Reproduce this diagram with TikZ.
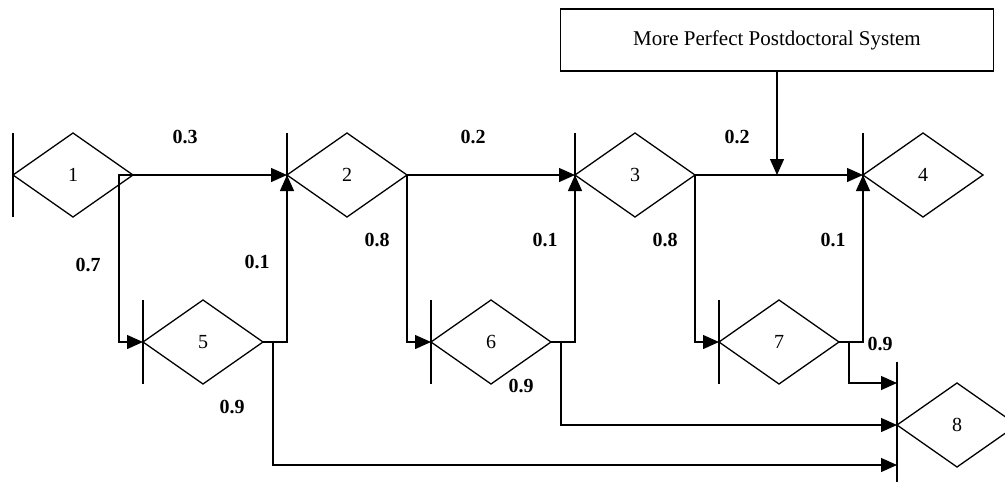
\documentclass[tikz,border=0pt]{standalone}
\usepackage{fontspec}
\setmainfont{Liberation Serif}
\usetikzlibrary{shapes.geometric, arrows.meta, calc}

\tikzset{
	state/.style={draw, shape=diamond, minimum width=120pt, minimum height=84pt, inner sep=0pt, outer sep=0pt, line width=1.3pt, font=\fontsize{20}{24}\selectfont},
	prob/.style={font=\fontsize{20}{24}\selectfont\bfseries},
	link/.style={-{Triangle[length=16pt,width=14pt]}, line width=1.3pt},
}

\begin{document}
\begin{tikzpicture}[x=1pt, y=-1pt]
	\useasboundingbox (0,0) rectangle (1005,482);
	\node[state, name=s1] at (73,175) {1};
	\node[state, name=s2] at (347,175) {2};
	\node[state, name=s3] at (635,175) {3};
	\node[state, name=s4] at (923,175) {4};
	\node[state, name=s5] at (203,342) {5};
	\node[state, name=s6] at (491,342) {6};
	\node[state, name=s7] at (779,342) {7};
	\node[state, name=s8] at (957,425) {8};
	\node[draw, name=policy, line width=1.3pt, minimum width=433pt, minimum height=62pt,
	font=\fontsize{21}{25}\selectfont] at (777,40) {More Perfect Postdoctoral System};
%	bars in front of the states
	\foreach \s in {s1,s2,s3,s4,s5,s6,s7}
		\draw[line width=1.3pt] ($(\s.west)+(0,-42)$) -- ($(\s.west)+(0,42)$);
	\draw[line width=1.3pt] ($(s8.west)+(0,-63)$) -- ($(s8.west)+(0,60)$);
	\draw[link] (s1.east) -- (s2.west);
	\draw[link] (s2.east) -- (s3.west);
	\draw[link] (s3.east) -- (s4.west);
	\draw[link] (s1.east) -- ++(-14,0) |- (s5.west);
	\draw[link] (s2.east) |- (s6.west);
	\draw[link] (s3.east) |- (s7.west);
	\draw[link] (s5.east) -| (s2.west);
	\draw[link] (s6.east) -| (s3.west);
	\draw[link] (s7.east) -| (s4.west);
	\draw[link] (s5.east) -- ++(10,0) |- ($(s8.west)+(0,40)$);
	\draw[link] (s6.east) -- ++(10,0) |- (s8.west);
	\draw[link] (s7.east) -- ++(10,0) |- ($(s8.west)+(0,-42)$);
	\draw[link] (policy.south) -- (policy.south |- s3.east);
	\node[prob, name=p12] at (185,137) {0.3};
	\node[prob, name=p23] at (473,137) {0.2};
	\node[prob, name=p34] at (737,137) {0.2};
	\node[prob, name=p15] at (88,265) {0.7};
	\node[prob, name=p26] at (377,240) {0.8};
	\node[prob, name=p37] at (665,240) {0.8};
	\node[prob, name=p52] at (257,262) {0.1};
	\node[prob, name=p63] at (545,240) {0.1};
	\node[prob, name=p74] at (833,240) {0.1};
	\node[prob, name=p58] at (232,407) {0.9};
	\node[prob, name=p68] at (521,386) {0.9};
	\node[prob, name=p78] at (880,344) {0.9};
\end{tikzpicture}
\end{document}
